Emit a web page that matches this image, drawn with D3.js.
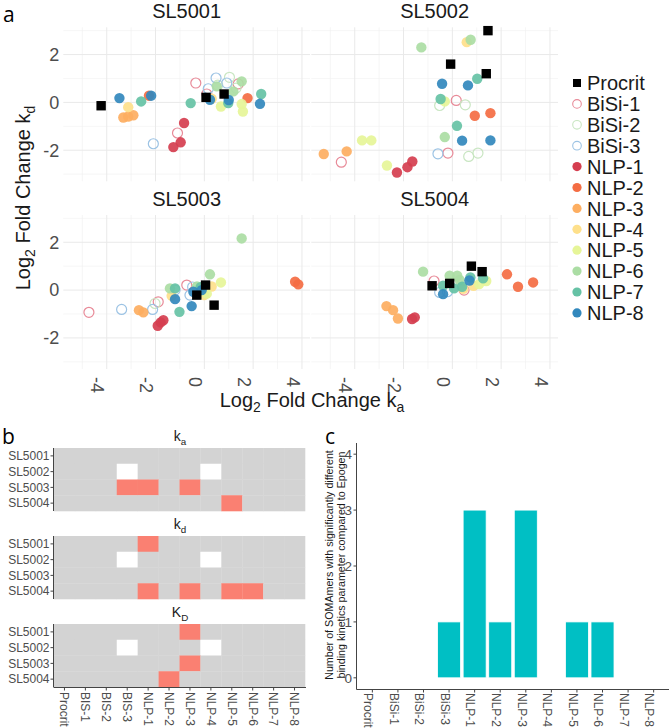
<!DOCTYPE html>
<meta charset="utf-8">
<style>
body { margin: 0; background: #fff; }
text { font-family: "Liberation Sans", Arial, sans-serif; }
.lbl { font-family: "Open Sans", sans-serif; font-size: 21px; }
</style>
<body>
<svg width=671 height=728></svg>
</body>
<script src="https://d3js.org/d3.v7.min.js"></script>
<script>
// ---- data ----
const groups = ["Procrit", "BiSi-1", "BiSi-2", "BiSi-3", "NLP-1", "NLP-2", "NLP-3", "NLP-4", "NLP-5", "NLP-6", "NLP-7", "NLP-8"]
const groupColors = ["#000000", "#e88a98", "#c9e6c2", "#9cc3e4", "#d53e4f", "#f46d43", "#fdae61", "#fee08b", "#e6f598", "#abdda4", "#66c2a5", "#3288bd"]
const facets = ["SL5001", "SL5002", "SL5003", "SL5004"]

// [group, log2 FC ka, log2 FC kd]
const sl5001 = [
  ["BiSi-1", -0.35, 0.81], ["BiSi-1", -1.10, -1.28], ["BiSi-1", 0.10, 0.35], ["BiSi-1", 1.39, 0.77],
  ["BiSi-2", 1.03, 1.05], ["BiSi-2", 0.55, 0.72], ["BiSi-2", 1.30, 0.60],
  ["BiSi-3", -2.09, -1.73], ["BiSi-3", 0.48, 1.02], ["BiSi-3", 0.92, 0.81], ["BiSi-3", 0.16, 0.57],
  ["NLP-1", -0.83, -0.86], ["NLP-1", -0.97, -1.67], ["NLP-1", -1.27, -1.87],
  ["NLP-2", -2.27, 0.28], ["NLP-2", 1.77, 0.18],
  ["NLP-3", -3.32, -0.63], ["NLP-3", -3.12, -0.59], ["NLP-3", -2.91, -0.54],
  ["NLP-4", -3.12, -0.20], ["NLP-4", 0.30, 0.15],
  ["NLP-5", 0.68, -0.17], ["NLP-5", 1.58, -0.38], ["NLP-5", 1.53, -0.07],
  ["NLP-6", 1.53, 0.88], ["NLP-6", 0.51, 0.67], ["NLP-6", 1.19, 0.46],
  ["NLP-7", -2.59, 0.04], ["NLP-7", -0.56, -0.03], ["NLP-7", 2.33, 0.35], ["NLP-7", 0.98, -0.03],
  ["NLP-8", -3.48, 0.18], ["NLP-8", -2.18, 0.28], ["NLP-8", 0.23, 0.11], ["NLP-8", 2.28, -0.06], ["NLP-8", 1.00, 0.10],
  ["Procrit", -4.23, -0.14], ["Procrit", 0.07, 0.21], ["Procrit", 0.81, 0.35]
]
const sl5002 = [
  ["BiSi-1", 0.16, 0.08], ["BiSi-1", -0.18, -2.12], ["BiSi-1", -4.55, -2.50],
  ["BiSi-2", -0.52, -0.13], ["BiSi-2", 0.53, -0.10], ["BiSi-2", 0.67, -2.26], ["BiSi-2", 1.05, -2.12],
  ["BiSi-3", -0.59, -2.15],
  ["NLP-1", -2.27, -2.93], ["NLP-1", -1.84, -2.71], ["NLP-1", -1.64, -2.47],
  ["NLP-2", 0.92, -0.56], ["NLP-2", 1.56, -0.45],
  ["NLP-3", -5.27, -2.16], ["NLP-3", -4.33, -2.05],
  ["NLP-4", 0.59, 2.52],
  ["NLP-5", -0.31, 0.04], ["NLP-5", -3.70, -1.59], ["NLP-5", -3.32, -1.59], ["NLP-5", -2.68, -2.64],
  ["NLP-6", -1.27, 2.30], ["NLP-6", 0.75, 2.62], ["NLP-6", -0.31, -1.45],
  ["NLP-7", 1.02, 0.99], ["NLP-7", -0.48, 0.14], ["NLP-7", 0.19, -0.98],
  ["NLP-8", -0.42, 0.78], ["NLP-8", 0.64, 0.71], ["NLP-8", 0.40, -1.60], ["NLP-8", 1.56, -1.59],
  ["Procrit", 1.46, 3.00], ["Procrit", -0.07, 1.60], ["Procrit", 1.39, 1.20]
]
const sl5003 = [
  ["BiSi-1", -4.73, -0.93], ["BiSi-1", -1.89, -0.49], ["BiSi-1", -0.72, 0.21],
  ["BiSi-2", -2.02, -0.56], ["BiSi-2", -0.30, 0.10],
  ["BiSi-3", -3.39, -0.81], ["BiSi-3", -2.12, -0.81], ["BiSi-3", -1.20, 0.00], ["BiSi-3", -0.59, -0.21], ["BiSi-3", -0.48, 0.13],
  ["NLP-1", -1.91, -1.49], ["NLP-1", -1.79, -1.35], ["NLP-1", -1.68, -1.26],
  ["NLP-2", 3.72, 0.35], ["NLP-2", 3.85, 0.24],
  ["NLP-3", -2.68, -0.84], ["NLP-3", -2.50, -0.93],
  ["NLP-4", -1.34, -0.24], ["NLP-4", -0.01, -0.21], ["NLP-4", 0.30, 0.15],
  ["NLP-5", 0.68, 0.32], ["NLP-5", 0.10, -0.15],
  ["NLP-6", 1.53, 2.16], ["NLP-6", 0.23, 0.66], ["NLP-6", -1.41, 0.07], ["NLP-6", -0.30, 0.15],
  ["NLP-7", -1.02, -0.91], ["NLP-7", -0.15, 0.12], ["NLP-7", -1.20, 0.07],
  ["NLP-8", -1.20, -0.38], ["NLP-8", -0.52, -0.67], ["NLP-8", -0.45, -0.07], ["NLP-8", -0.11, 0.00],
  ["Procrit", 0.05, 0.21], ["Procrit", 0.40, -0.63], ["Procrit", -0.31, -0.21]
]
const sl5004 = [
  ["BiSi-1", -0.75, 0.38], ["BiSi-1", 0.48, 0.00],
  ["BiSi-2", 0.10, 0.20],
  ["BiSi-3", -0.52, -0.10], ["BiSi-3", -0.20, -0.07],
  ["NLP-1", -1.65, -1.21], ["NLP-1", -1.54, -1.14],
  ["NLP-2", 2.24, 0.66], ["NLP-2", 2.69, 0.14], ["NLP-2", 3.31, 0.32],
  ["NLP-3", -2.70, -0.67], ["NLP-3", -2.43, -0.84], ["NLP-3", -2.23, -1.19],
  ["NLP-4", 0.87, 0.18], ["NLP-4", 0.45, 0.05],
  ["NLP-5", 1.39, 0.38], ["NLP-5", 1.10, 0.25],
  ["NLP-6", -1.20, 0.77], ["NLP-6", -0.11, 0.60], ["NLP-6", 0.20, 0.60], ["NLP-6", 0.30, 0.42],
  ["NLP-7", 0.74, 0.53], ["NLP-7", 1.26, 0.49], ["NLP-7", -0.38, 0.18], ["NLP-7", 0.07, 0.07], ["NLP-7", 0.40, 0.14],
  ["NLP-8", -0.38, -0.17], ["NLP-8", 0.70, 0.40],
  ["Procrit", -0.83, 0.18], ["Procrit", 0.78, 1.00], ["Procrit", 1.22, 0.77], ["Procrit", -0.11, 0.28]
]
const facetData = [sl5001, sl5002, sl5003, sl5004]

// heatmap: 1 = significant, 0 = not significant, -1 = not available
const heatCols = ["Procrit", "BIS-1", "BIS-2", "BIS-3", "NLP-1", "NLP-2", "NLP-3", "NLP-4", "NLP-5", "NLP-6", "NLP-7", "NLP-8"]
const kaSig = [
  [0, 0, 0, 0, 0, 0, 0, 0, 0, 0, 0, 0],
  [0, 0, 0, -1, 0, 0, 0, -1, 0, 0, 0, 0],
  [0, 0, 0, 1, 1, 0, 1, 0, 0, 0, 0, 0],
  [0, 0, 0, 0, 0, 0, 0, 0, 1, 0, 0, 0]
]
const kdSig = [
  [0, 0, 0, 0, 1, 0, 0, 0, 0, 0, 0, 0],
  [0, 0, 0, -1, 0, 0, 0, -1, 0, 0, 0, 0],
  [0, 0, 0, 0, 0, 0, 0, 0, 0, 0, 0, 0],
  [0, 0, 0, 0, 1, 0, 1, 0, 1, 1, 0, 0]
]
const KDSig = [
  [0, 0, 0, 0, 0, 0, 1, 0, 0, 0, 0, 0],
  [0, 0, 0, -1, 0, 0, 0, -1, 0, 0, 0, 0],
  [0, 0, 0, 0, 0, 0, 1, 0, 0, 0, 0, 0],
  [0, 0, 0, 0, 0, 1, 0, 0, 0, 0, 0, 0]
]

// bar chart
const barCats = ["Procrit", "BiSi-1", "BiSi-2", "BiSi-3", "NLP-1", "NLP-2", "NLP-3", "NLP-4", "NLP-5", "NLP-6", "NLP-7", "NLP-8"]
const barCounts = [0, 0, 0, 1, 3, 1, 3, 0, 1, 1, 0, 0]

// ---- drawing ----
const svg = d3.select("svg")
const color = d3.scaleOrdinal().domain(groups).range(groupColors)
const tickGray = "#4d4d4d"

// subscript helper: parts = [[text, isSub], ...]
function subText(sel, parts, size) {
  let shifted = false
  parts.forEach(([t, sub]) => {
    const ts = sel.append("tspan").text(t)
    if (sub && !shifted) { ts.attr("font-size", size * 0.7).attr("dy", size * 0.25); shifted = true }
    else if (!sub && shifted) { ts.attr("dy", -size * 0.25); shifted = false }
  })
  return sel
}

// ===== panel a =====
const pw = 246.7, ph = 154
const panelOrigin = [[63.3, 27.3], [311.3, 27.3], [63.3, 215], [311.3, 215]]
const xDom = [-5.78, 4.33], yDom = [-3.3, 3.14]

svg.append("text").attr("class", "lbl").attr("x", 3).attr("y", 22).text("a")

facets.forEach((name, i) => {
  const [ox, oy] = panelOrigin[i]
  const x = d3.scaleLinear().domain(xDom).range([ox, ox + pw])
  const y = d3.scaleLinear().domain(yDom).range([oy + ph, oy])
  const g = svg.append("g")

  // grid
  const xMinor = [-5, -3, -1, 1, 3], xMajor = [-4, -2, 0, 2, 4]
  const yMinor = [-3, -1, 1, 3], yMajor = [-2, 0, 2]
  g.selectAll(".vmin").data(xMinor).enter().append("line")
    .attr("x1", x).attr("x2", x).attr("y1", oy).attr("y2", oy + ph)
    .attr("stroke", "#f0f0f0").attr("stroke-width", 0.6)
  g.selectAll(".hmin").data(yMinor).enter().append("line")
    .attr("y1", y).attr("y2", y).attr("x1", ox).attr("x2", ox + pw)
    .attr("stroke", "#f0f0f0").attr("stroke-width", 0.6)
  g.selectAll(".vmaj").data(xMajor).enter().append("line")
    .attr("x1", x).attr("x2", x).attr("y1", oy).attr("y2", oy + ph)
    .attr("stroke", "#e9e9e9").attr("stroke-width", 1)
  g.selectAll(".hmaj").data(yMajor).enter().append("line")
    .attr("y1", y).attr("y2", y).attr("x1", ox).attr("x2", ox + pw)
    .attr("stroke", "#e9e9e9").attr("stroke-width", 1)

  // facet title
  g.append("text").attr("x", ox + pw / 2).attr("y", oy - 9)
    .attr("text-anchor", "middle").attr("font-size", 20).attr("fill", "#1a1a1a").text(name)

  // y tick labels on left column
  if (i % 2 == 0) {
    g.selectAll(".yl").data(yMajor).enter().append("text")
      .attr("x", ox - 4).attr("y", y).attr("dy", "0.35em")
      .attr("text-anchor", "end").attr("font-size", 18).attr("fill", tickGray)
      .text((d) => d)
  }
  // x tick labels on bottom row (rotated)
  if (i >= 2) {
    g.selectAll(".xl").data(xMajor).enter().append("text")
      .attr("transform", (d) => `translate(${x(d) - 9},${oy + ph + 8}) rotate(90)`)
      .attr("dy", "0.35em").attr("font-size", 18).attr("fill", tickGray)
      .text((d) => d)
  }

  // points: hollow BiSi, then NLP, then Procrit squares
  const rows = facetData[i]
  const hollow = rows.filter((d) => d[0].startsWith("BiSi"))
  const filled = rows.filter((d) => d[0].startsWith("NLP"))
  const squares = rows.filter((d) => d[0] == "Procrit")
  g.selectAll(".ho").data(hollow).enter().append("circle")
    .attr("cx", (d) => x(d[1])).attr("cy", (d) => y(d[2])).attr("r", 5)
    .attr("fill", "none").attr("stroke", (d) => color(d[0])).attr("stroke-width", 1.2)
  g.selectAll(".fi").data(filled).enter().append("circle")
    .attr("cx", (d) => x(d[1])).attr("cy", (d) => y(d[2])).attr("r", 5.2)
    .attr("fill", (d) => color(d[0])).attr("fill-opacity", 0.92)
  g.selectAll(".sq").data(squares).enter().append("rect")
    .attr("x", (d) => x(d[1]) - 4.7).attr("y", (d) => y(d[2]) - 4.7)
    .attr("width", 9.4).attr("height", 9.4).attr("fill", "#000")
})

// axis titles
subText(svg.append("text").attr("transform", "translate(30,198) rotate(-90)")
  .attr("text-anchor", "middle").attr("font-size", 20).attr("fill", "#1a1a1a"),
  [["Log", false], ["2", true], [" Fold Change k", false], ["d", true]], 20)
subText(svg.append("text").attr("x", 312).attr("y", 407)
  .attr("text-anchor", "middle").attr("font-size", 20).attr("fill", "#1a1a1a"),
  [["Log", false], ["2", true], [" Fold Change k", false], ["a", true]], 20)

// legend
const leg = svg.append("g")
const ly = d3.scalePoint().domain(groups).range([83, 83 + 11 * 20.9])
groups.forEach((gname) => {
  const cy = ly(gname)
  if (gname == "Procrit") {
    leg.append("rect").attr("x", 573).attr("y", cy - 4).attr("width", 8).attr("height", 8).attr("fill", "#000")
  } else if (gname.startsWith("BiSi")) {
    leg.append("circle").attr("cx", 577).attr("cy", cy).attr("r", 4.3)
      .attr("fill", "none").attr("stroke", color(gname)).attr("stroke-width", 1.1)
  } else {
    leg.append("circle").attr("cx", 577).attr("cy", cy).attr("r", 4.6).attr("fill", color(gname))
  }
  leg.append("text").attr("x", 587).attr("y", cy).attr("dy", "0.36em")
    .attr("font-size", 20).attr("fill", "#1a1a1a").text(gname)
})

// ===== panel b =====
svg.append("text").attr("class", "lbl").attr("x", 2).attr("y", 444).text("b")
const hx = d3.scaleBand().domain(heatCols).range([54, 305])
const heatPanels = [
  { top: 448, data: kaSig, title: [["k", false], ["a", true]] },
  { top: 536, data: kdSig, title: [["k", false], ["d", true]] },
  { top: 624, data: KDSig, title: [["K", false], ["D", true]] }
]
const fillFor = (v) => v == 1 ? "#fa8072" : v == -1 ? "#ffffff" : "#d3d3d3"
heatPanels.forEach((p, pi) => {
  const hy = d3.scaleBand().domain(facets).range([p.top, p.top + 63])
  const g = svg.append("g")
  p.data.forEach((row, ri) => {
    g.selectAll(null).data(row).enter().append("rect")
      .attr("x", (d, ci) => hx(heatCols[ci])).attr("y", hy(facets[ri]))
      .attr("width", hx.bandwidth() + 0.3).attr("height", hy.bandwidth() + 0.3)
      .attr("fill", fillFor)
  })
  subText(g.append("text").attr("x", 180).attr("y", p.top - 7)
    .attr("text-anchor", "middle").attr("font-size", 14).attr("fill", "#1a1a1a"), p.title, 14)
  g.append("line").attr("x1", 53.5).attr("x2", 53.5).attr("y1", p.top).attr("y2", p.top + 63)
    .attr("stroke", "#444").attr("stroke-width", 1)
  facets.forEach((f) => {
    const cy = hy(f) + hy.bandwidth() / 2
    g.append("line").attr("x1", 50.5).attr("x2", 53.5).attr("y1", cy).attr("y2", cy).attr("stroke", "#444")
    g.append("text").attr("x", 49.5).attr("y", cy).attr("dy", "0.35em").attr("text-anchor", "end")
      .attr("font-size", 12).attr("fill", tickGray).text(f)
  })
  if (pi == 2) {
    g.append("line").attr("x1", 53.5).attr("x2", 306).attr("y1", 687.5).attr("y2", 687.5)
      .attr("stroke", "#444").attr("stroke-width", 1)
    heatCols.forEach((c) => {
      const cx = hx(c) + hx.bandwidth() / 2
      g.append("line").attr("x1", cx).attr("x2", cx).attr("y1", 687.5).attr("y2", 690.5).attr("stroke", "#444")
      g.append("text").attr("transform", `translate(${cx},692) rotate(90)`).attr("dy", "0.35em")
        .attr("font-size", 12).attr("fill", tickGray).text(c)
    })
  }
})

// ===== panel c =====
svg.append("text").attr("class", "lbl").attr("x", 325).attr("y", 444).text("c")
const bx = d3.scalePoint().domain(barCats).range([357, 669]).padding(0.6)
const by = d3.scaleLinear().domain([-0.2, 4.2]).range([689, 443])
const bw = bx.step() * 0.9
const gc = svg.append("g")
gc.selectAll(".bar").data(barCounts).enter().append("rect")
  .attr("x", (d, i) => bx(barCats[i]) - bw / 2).attr("y", (d) => by(d))
  .attr("width", bw).attr("height", (d) => by(0) - by(d))
  .attr("fill", "#00bfc4").attr("stroke", "#fff").attr("stroke-width", 0.8)
gc.append("line").attr("x1", 356.5).attr("x2", 356.5).attr("y1", 443).attr("y2", 689.5).attr("stroke", "#444")
gc.append("line").attr("x1", 356.5).attr("x2", 669).attr("y1", 689.5).attr("y2", 689.5).attr("stroke", "#444")
gc.selectAll(".yt").data([0, 1, 2, 3, 4]).enter().append("line")
  .attr("x1", 353.5).attr("x2", 356.5).attr("y1", by).attr("y2", by).attr("stroke", "#444")
gc.selectAll(".ytl").data([0, 1, 2, 3, 4]).enter().append("text")
  .attr("x", 352).attr("y", by).attr("dy", "0.35em").attr("text-anchor", "end")
  .attr("font-size", 13.5).attr("fill", tickGray).text((d) => d)
barCats.forEach((c) => {
  gc.append("line").attr("x1", bx(c)).attr("x2", bx(c)).attr("y1", 689.5).attr("y2", 692.5).attr("stroke", "#444")
  gc.append("text").attr("transform", `translate(${bx(c) - 4},693) rotate(90)`).attr("dy", "0.35em")
    .attr("font-size", 12).attr("fill", tickGray).text(c)
})
const yTitle = gc.append("text").attr("transform", "translate(333,565) rotate(-90)")
  .attr("text-anchor", "middle").attr("font-size", 10.7).attr("fill", "#1a1a1a")
yTitle.append("tspan").attr("x", 0).attr("y", 0).text("Number of SOMAmers with significantly different")
yTitle.append("tspan").attr("x", 0).attr("y", 11.5).text("binding kinetics parameter compared to Epogen")
</script>
